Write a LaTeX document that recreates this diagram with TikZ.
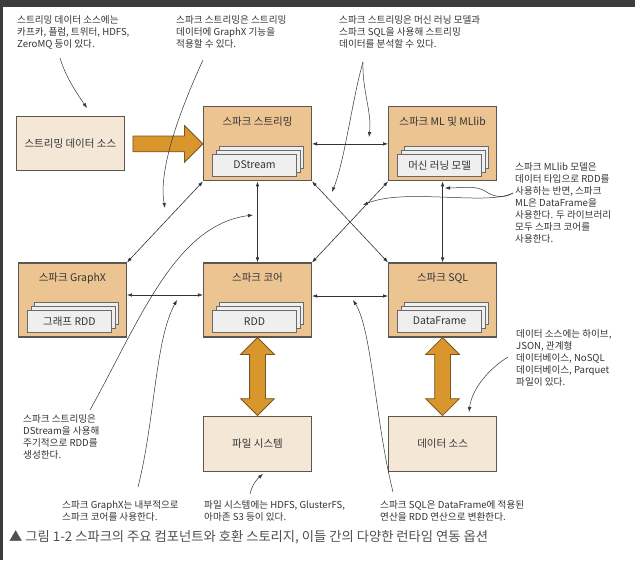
\documentclass[tikz,border=0pt]{standalone}
\usepackage{fontspec}
\setmainfont{Noto Sans CJK KR}
\usepackage{xcolor}
\definecolor{boxtan}{HTML}{EBC492}
\definecolor{boxpale}{HTML}{F4E7D6}
\definecolor{boxline}{HTML}{5C5650}
\definecolor{cardfill}{HTML}{EFEFEF}
\definecolor{cardline}{HTML}{6A6A6A}
\definecolor{bigorange}{HTML}{D8962C}
\definecolor{bigline}{HTML}{7A5422}
\definecolor{inkgray}{HTML}{333333}
\definecolor{capgray}{HTML}{505050}
\definecolor{framegray}{HTML}{3C3C3C}
\usetikzlibrary{arrows.meta,positioning,calc,shadows,shapes.arrows}
\newcommand{\annfont}{\fontsize{9.6}{12}\selectfont}
\newcommand{\boxfont}{\fontsize{10.5}{12}\selectfont}
\tikzset{
  comp/.style={draw=boxline, fill=boxtan, line width=1.1pt, minimum width=108pt,
               minimum height=74pt, inner sep=0pt},
  store/.style={draw=boxline, fill=boxpale, line width=1.1pt, minimum width=108pt,
                minimum height=55pt, font=\boxfont, text=inkgray},
  ttl/.style={inner sep=0pt, font=\boxfont, text=inkgray},
  card/.style={draw=cardline, fill=cardfill, line width=0.7pt, minimum width=84pt,
               minimum height=22pt, inner sep=0pt, font=\boxfont, text=inkgray,
               double copy shadow={shadow xshift=3.5pt, shadow yshift=4pt,
                                   fill=cardfill, draw=cardline}},
  note/.style={inner sep=0pt, align=left, font=\annfont, text=inkgray, anchor=north west},
  link/.style={{Latex[length=5pt,width=3.5pt]}-{Latex[length=5pt,width=3.5pt]},
               draw=inkgray, line width=0.6pt},
  pointer/.style={-{Latex[length=5pt,width=3.5pt]}, draw=inkgray, line width=0.5pt},
  flow/.style={single arrow, draw=bigline, fill=bigorange, line width=0.8pt,
               inner sep=7.5pt, minimum height=70pt, single arrow head extend=10.5pt},
  flow2/.style={double arrow, draw=bigline, fill=bigorange, line width=0.8pt,
                inner sep=7.5pt, minimum height=78pt, double arrow head extend=9pt,
                shape border rotate=90},
}

\begin{document}
\begin{tikzpicture}[x=1pt, y=-1pt]
  \useasboundingbox (0,0) rectangle (635,560);
  \fill[white] (0,0) rectangle (635,560);
  \fill[framegray] (0,0) rectangle (635,7);
  \fill[framegray] (0,0) rectangle (2.5,560);

  % components
  \node[comp] (core) at (257.5,300) {};
  \node[comp, above=81pt of core] (stream) {};
  \node[comp, left=76pt of core] (graphx) {};
  \node[comp, right=76pt of core] (sql) {};
  \node[comp, above=81pt of sql] (ml) {};
  \node[store, minimum height=54pt, left=78pt of stream] (src) {스트리밍 데이터 소스};
  \node[store, below=78pt of core] (files) {파일 시스템};
  \node[store, below=78pt of sql] (dsrc) {데이터 소스};

  \node[ttl, below=10pt of stream.north] (streamttl) {스파크 스트리밍};
  \node[ttl, below=10pt of ml.north] (mlttl) {스파크 ML 및 MLlib};
  \node[ttl, below=10pt of graphx.north] (graphxttl) {스파크 GraphX};
  \node[ttl, below=10pt of core.north] (corettl) {스파크 코어};
  \node[ttl, below=10pt of sql.north] (sqlttl) {스파크 SQL};

  \node[card, above=5pt of stream.south, xshift=-3pt] (dstream) {DStream};
  \node[card, above=5pt of ml.south, xshift=-3pt] (mlmodel) {머신 러닝 모델};
  \node[card, above=5pt of graphx.south, xshift=-3pt] (graphrdd) {그래프 RDD};
  \node[card, above=5pt of core.south, xshift=-3pt] (rdd) {RDD};
  \node[card, above=5pt of sql.south, xshift=-3pt] (dframe) {DataFrame};

  % links
  \draw[link] (stream.south west) -- (graphx.north east);
  \draw[link] (stream.south) -- (core.north);
  \draw[link] (stream.south east) -- (sql.north west);
  \draw[link] (ml.south west) -- (core.north east);
  \draw[link] (stream.east) -- (ml.west);
  \draw[link] (ml.south) -- (sql.north);
  \draw[link] ([yshift=5pt]graphx.east) -- ([yshift=5pt]core.west);
  \draw[link] ([yshift=4pt]core.east) -- ([yshift=4pt]sql.west);

  % big arrows
  \node[flow] (feed) at ($(src.east)!0.5!(stream.west)$) {};
  \node[flow2] (coreio) at ($(core.south)!0.5!(files.north)$) {};
  \node[flow2] (sqlio) at ($(sql.south)!0.5!(dsrc.north)$) {};

  % notes
  \node[note] (srcnote) at (17,15) {스트리밍 데이터 소스에는\\카프카, 플럼, 트위터, HDFS,\\ZeroMQ 등이 있다.};
  \node[note] (gxnote) at (176,15) {스파크 스트리밍은 스트리밍\\데이터에 GraphX 기능을\\적용할 수 있다.};
  \node[note] (mlnote) at (339,15) {스파크 스트리밍은 머신 러닝 모델과\\스파크 SQL을 사용해 스트리밍\\데이터를 분석할 수 있다.};
  \node[note] (libnote) at (515,162) {스파크 MLlib 모델은\\데이터 타입으로 RDD를\\사용하는 반면, 스파크\\ML은 DataFrame을\\사용한다. 두 라이브러리\\모두 스파크 코어를\\사용한다.};
  \node[note] (dsnote) at (516,329) {데이터 소스에는 하이브,\\JSON, 관계형\\데이터베이스, NoSQL\\데이터베이스, Parquet\\파일이 있다.};
  \node[note] (dsmnote) at (23,414) {스파크 스트리밍은\\DStream을 사용해\\주기적으로 RDD를\\생성한다.};
  \node[note] (gxcnote) at (62,500) {스파크 GraphX는 내부적으로\\스파크 코어를 사용한다.};
  \node[note] (fsnote) at (204,500) {파일 시스템에는 HDFS, GlusterFS,\\아마존 S3 등이 있다.};
  \node[note] (sqlnote) at (380,500) {스파크 SQL은 DataFrame에 적용된\\연산을 RDD 연산으로 변환한다.};

  \node[anchor=west, inner sep=0pt, font=\fontsize{13.3}{15}\selectfont, text=capgray] (caption)
    at (9,537) {▲ 그림 1-2 스파크의 주요 컴포넌트와 호환 스토리지, 이들 간의 다양한 런타임 연동 옵션};

  % pointer ends
  \coordinate (srcfrom) at (60,58);   \coordinate (srcto) at (87,108);
  \coordinate (gxfrom) at (203,60);   \coordinate (gxto) at (165,208);
  \coordinate (mlfrom) at (363,62);   \coordinate (mlto) at (369,137);
  \coordinate (sqlto) at (332,192);
  \coordinate (libfrom) at (513,193); \coordinate (libto) at (445,188);
  \coordinate (coreto) at (363,205);
  \coordinate (dsfrom) at (508,357);  \coordinate (dsto) at (469,412);
  \coordinate (dsmfrom) at (90,410);  \coordinate (dsmto) at (253,215);
  \coordinate (gxcfrom) at (138,487); \coordinate (gxcto) at (177,300);
  \coordinate (fsfrom) at (250,494);  \coordinate (fsto) at (263,474);
  \coordinate (sqlfrom) at (393,492); \coordinate (sqlcto) at (353,300);

  % pointers
  \draw[pointer] (srcfrom) .. controls (66,78) and (78,95) .. (srcto);
  \draw[pointer] (gxfrom) .. controls (180,110) and (158,170) .. (gxto);
  \draw[pointer] (mlfrom) .. controls (362,90) and (372,112) .. (mlto);
  \draw[pointer] (mlfrom) .. controls (352,100) and (345,160) .. (sqlto);
  \draw[pointer] (libfrom) .. controls (505,198) and (495,198) .. (485,191)
                 .. controls (475,185) and (460,188) .. (libto);
  \draw[pointer] (libfrom) .. controls (500,200) and (470,198) .. (440,197)
                 .. controls (410,196) and (385,196) .. (coreto);
  \draw[pointer] (dsfrom) .. controls (490,368) and (472,388) .. (dsto);
  \draw[pointer] (dsmfrom) .. controls (140,320) and (175,225) .. (dsmto);
  \draw[pointer] (gxcfrom) .. controls (155,420) and (155,340) .. (gxcto);
  \draw[pointer] (fsfrom) .. controls (252,485) and (257,479) .. (fsto);
  \draw[pointer] (sqlfrom) .. controls (375,420) and (372,330) .. (sqlcto);
\end{tikzpicture}
\end{document}
